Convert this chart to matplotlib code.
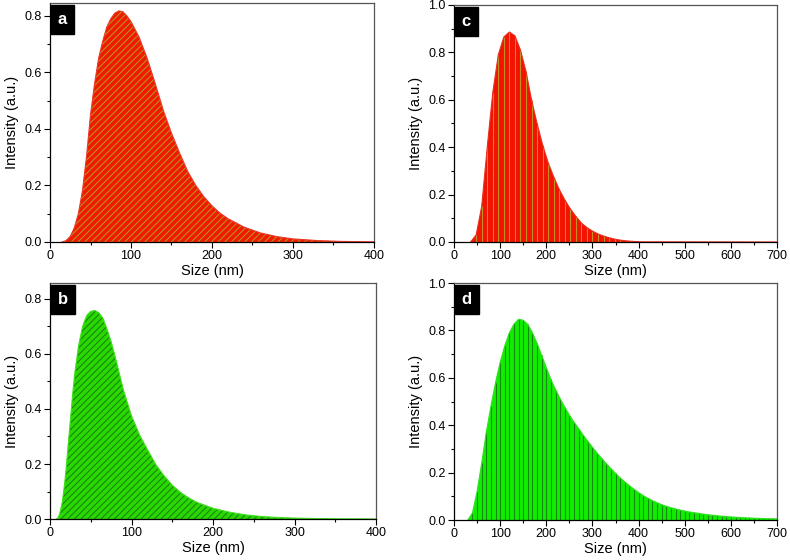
import numpy as np
import matplotlib
matplotlib.use("Agg")
import matplotlib.pyplot as plt
from matplotlib.ticker import MultipleLocator

plt.rcParams['font.family'] = ['Liberation Sans', 'DejaVu Sans']
plt.rcParams['hatch.linewidth'] = 0.7

# panel a (red, hatched)
size_a = [15, 20, 25, 30, 35, 40, 45, 50, 55, 60, 65, 70, 75, 80, 85, 90, 95, 100,
          110, 120, 130, 140, 150, 160, 170, 180, 190, 200, 210, 220, 240, 260,
          280, 300, 330, 360, 400]
int_a = [0, 0.005, 0.02, 0.05, 0.1, 0.18, 0.3, 0.45, 0.56, 0.65, 0.71, 0.76, 0.79,
         0.81, 0.818, 0.815, 0.80, 0.78, 0.725, 0.65, 0.56, 0.465, 0.385, 0.315,
         0.25, 0.2, 0.16, 0.128, 0.102, 0.082, 0.052, 0.032, 0.019, 0.011, 0.005,
         0.002, 0.0005]

# panel b (green, hatched)
size_b = [8, 10, 12, 15, 18, 20, 22, 25, 28, 30, 35, 40, 45, 50, 55, 60, 65, 70, 75,
          80, 90, 100, 110, 120, 130, 140, 150, 160, 170, 180, 200, 220, 240, 260,
          280, 300, 330, 360, 400]
int_b = [0, 0.005, 0.02, 0.06, 0.13, 0.19, 0.26, 0.36, 0.46, 0.52, 0.63, 0.70, 0.74,
         0.755, 0.758, 0.75, 0.73, 0.69, 0.645, 0.59, 0.47, 0.375, 0.305, 0.25,
         0.197, 0.157, 0.123, 0.097, 0.077, 0.061, 0.039, 0.025, 0.015, 0.009,
         0.0055, 0.0033, 0.0015, 0.0006, 0.0002]

# panel c (red, drop lines)
size_c = [36, 48, 60, 72, 84, 96, 108, 120, 132, 144, 156, 168, 180, 192, 204, 216,
          228, 240, 252, 264, 276, 288, 300, 312, 324, 336, 348, 360, 372, 384, 396,
          408, 700]
int_c = [0, 0.03, 0.15, 0.40, 0.63, 0.79, 0.865, 0.886, 0.87, 0.81, 0.72, 0.60, 0.50,
         0.41, 0.335, 0.275, 0.222, 0.178, 0.14, 0.108, 0.08, 0.061, 0.046, 0.034,
         0.025, 0.018, 0.012, 0.008, 0.005, 0.003, 0.0015, 0.0005, 0]

# panel d (green, drop lines)
size_d = list(range(30, 701, 10))
int_d = [0, 0.03, 0.12, 0.24, 0.37, 0.48, 0.58, 0.665, 0.735, 0.79, 0.827, 0.847,
         0.843, 0.825, 0.79, 0.745, 0.695, 0.643, 0.593, 0.55, 0.512, 0.476, 0.443,
         0.413, 0.386, 0.358, 0.332, 0.307, 0.283, 0.26, 0.238, 0.217, 0.197, 0.178,
         0.161, 0.145, 0.13, 0.116, 0.103, 0.092, 0.082, 0.073, 0.065, 0.058, 0.052,
         0.047, 0.042, 0.038, 0.034, 0.031, 0.028, 0.025, 0.0225, 0.02, 0.018,
         0.0162, 0.0146, 0.013, 0.0118, 0.0106, 0.0095, 0.0086, 0.0077, 0.007,
         0.0063, 0.0057, 0.0052, 0.0047]

fig = plt.figure(figsize=(7.9, 5.6), dpi=100)

ax_a = fig.add_axes([0.0633, 0.5679, 0.4101, 0.4268])
ax_c = fig.add_axes([0.5747, 0.5679, 0.4089, 0.4232])
ax_b = fig.add_axes([0.0633, 0.0732, 0.4127, 0.4214])
ax_d = fig.add_axes([0.5747, 0.0714, 0.4089, 0.4232])


def style_axes(ax, xmax, ymax, ystep, letter):
    ax.set_xlim(0, xmax)
    ax.set_ylim(0, ymax)
    ax.xaxis.set_major_locator(MultipleLocator(100))
    ax.xaxis.set_minor_locator(MultipleLocator(50))
    ax.yaxis.set_major_locator(MultipleLocator(ystep))
    ax.yaxis.set_minor_locator(MultipleLocator(ystep / 2))
    ax.yaxis.set_major_formatter(plt.FormatStrFormatter('%.1f'))
    ax.tick_params(which='major', direction='out', length=4, width=0.8,
                   labelsize=9, pad=2)
    ax.tick_params(which='minor', direction='out', length=2.5, width=0.8)
    for s in ['left', 'bottom']:
        ax.spines[s].set_color('black')
        ax.spines[s].set_linewidth(0.9)
    for s in ['top', 'right']:
        ax.spines[s].set_color('#555555')
        ax.spines[s].set_linewidth(0.9)
    ax.set_xlabel('Size (nm)', fontsize=10.5, labelpad=1)
    ax.set_ylabel('Intensity (a.u.)', fontsize=10.5, labelpad=4)
    ax.text(0.024, 0.962, letter, transform=ax.transAxes, ha='left', va='top',
            fontsize=12, fontweight='bold', color='white',
            bbox=dict(boxstyle='square,pad=0.4', fc='black', ec='black'))


# a: red with diagonal hatch
ax_a.fill_between(size_a, int_a, 0, facecolor='#f01a00', edgecolor='#b89a20',
                  hatch='/////', linewidth=0)
ax_a.plot(size_a + [400], int_a + [0], color='#e83a2a', lw=0.8)
style_axes(ax_a, 400, 0.846, 0.2, 'a')

# b: green with diagonal hatch
ax_b.fill_between(size_b, int_b, 0, facecolor='#28d800', edgecolor='#1a7a10',
                  hatch='/////', linewidth=0)
ax_b.plot(size_b, int_b, color='#40e020', lw=0.8)
style_axes(ax_b, 400, 0.858, 0.2, 'b')

# c: red with drop lines
ax_c.fill_between(size_c, int_c, 0, facecolor='#f41200', linewidth=0)
ax_c.vlines(size_c, 0, int_c, color='#c09020', lw=0.8)
ax_c.plot(size_c, int_c, color='#e83020', lw=0.8)
style_axes(ax_c, 700, 1.0, 0.2, 'c')

# d: green with drop lines
ax_d.fill_between(size_d, int_d, 0, facecolor='#10ee00', linewidth=0)
ax_d.vlines(size_d, 0, int_d, color='#138a10', lw=0.8)
ax_d.plot(size_d, int_d, color='#30e020', lw=0.8)
style_axes(ax_d, 700, 1.0, 0.2, 'd')

fig.savefig('out.png', dpi=100)
